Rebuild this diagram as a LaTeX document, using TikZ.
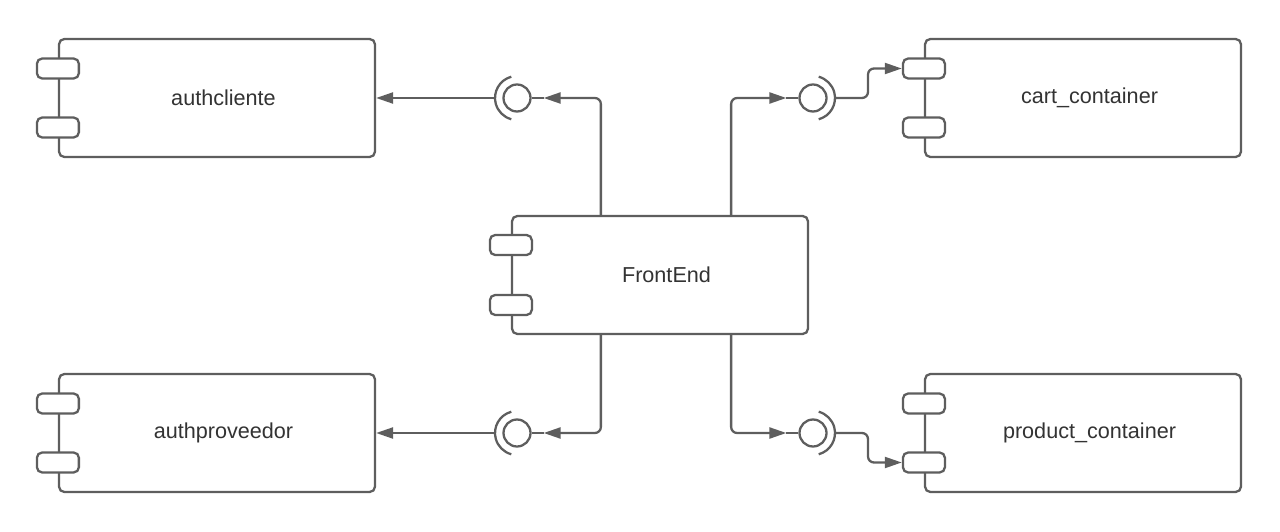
\documentclass[tikz,border=0pt]{standalone}
\usepackage{fontspec}
\setmainfont{Liberation Sans}
\usepackage{tikz}
\usetikzlibrary{arrows.meta}
\definecolor{lucidgray}{HTML}{5E5E5E}
\definecolor{lucidtext}{HTML}{333333}
\tikzset{
  wire/.style={
    draw = lucidgray,
    line width = 1.3pt
  },
  ->/.style={
    -{Triangle[length=0.34cm, width=0.22cm]}
  },
  comp/.style={
    wire,
    fill = white,
    rounded corners = 3pt,
    minimum width = 6.32cm,
    minimum height = 2.36cm
  },
  port/.style={
    wire,
    fill = white,
    rounded corners = 3pt,
    inner sep = 0pt,
    minimum width = 0.84cm,
    minimum height = 0.4cm
  },
  lolli/.style={
    wire,
    circle,
    fill = white,
    inner sep = 0pt,
    minimum size = 0.54cm
  }
}

\begin{document}
\begin{tikzpicture}[x=0.02cm, y=0.02cm, every node/.style={font=\fontsize{12.3}{14}\selectfont, text=lucidtext}]
\newcommand\XLeft{217}
\newcommand\XRight{1083}
\newcommand\YTop{433}
\newcommand\YBot{98}
\useasboundingbox (0,0) rectangle (1280,531);
\node[comp] (Acli)   at (\XLeft,\YTop)  {\hspace*{0.26cm}authcliente};
\node[comp] (Aprov)  at (\XLeft,\YBot)  {\hspace*{0.26cm}authproveedor};
\node[comp] (Acart)  at (\XRight,\YTop) {\hspace*{0.26cm}cart\_container};
\node[comp] (Aprod)  at (\XRight,\YBot) {\hspace*{0.26cm}product\_container};
\node[comp, minimum width=5.92cm] (Afront) at (660,256) {\hspace*{0.26cm}FrontEnd};
\node[port] (Acli1)   at ([yshift=0.59cm]Acli.west) {};
\node[port] (Acli2)   at ([yshift=-0.59cm]Acli.west) {};
\node[port] (Aprov1)  at ([yshift=0.59cm]Aprov.west) {};
\node[port] (Aprov2)  at ([yshift=-0.59cm]Aprov.west) {};
\node[port] (Acart1)  at ([yshift=0.59cm]Acart.west) {};
\node[port] (Acart2)  at ([yshift=-0.59cm]Acart.west) {};
\node[port] (Aprod1)  at ([yshift=0.59cm]Aprod.west) {};
\node[port] (Aprod2)  at ([yshift=-0.59cm]Aprod.west) {};
\node[port] (Afront1) at ([yshift=0.6cm]Afront.west) {};
\node[port] (Afront2) at ([yshift=-0.6cm]Afront.west) {};

% interfaces
\node[lolli] (I1) at (517,\YTop) {};
\node[lolli] (I2) at (813,\YTop) {};
\node[lolli] (I3) at (517,\YBot) {};
\node[lolli] (I4) at (813,\YBot) {};
\draw[wire] (I1.east) -- ++(12,0) coordinate (I1s);
\draw[wire] (I3.east) -- ++(12,0) coordinate (I3s);
\draw[wire] (I2.west) -- ++(-12,0) coordinate (I2s);
\draw[wire] (I4.west) -- ++(-12,0) coordinate (I4s);
\draw[wire] ([shift={(105:22)}]I1.center) arc[start angle=105, end angle=255, radius=0.44cm];
\draw[wire] ([shift={(105:22)}]I3.center) arc[start angle=105, end angle=255, radius=0.44cm];
\draw[wire] ([shift={(-75:22)}]I2.center) arc[start angle=-75, end angle=75, radius=0.44cm];
\draw[wire] ([shift={(-75:22)}]I4.center) arc[start angle=-75, end angle=75, radius=0.44cm];
\path (I1.center) ++(-22,0) coordinate (S1)
      (I3.center) ++(-22,0) coordinate (S3)
      (I2.center) ++(22,0)  coordinate (S2)
      (I4.center) ++(22,0)  coordinate (S4);

\draw[wire, ->, rounded corners=0.12cm] ([xshift=1.8cm]Afront.north west) |- (I1s);
\draw[wire, ->, rounded corners=0.12cm] ([xshift=-1.56cm]Afront.north east) |- (I2s);
\draw[wire, ->, rounded corners=0.12cm] ([xshift=1.8cm]Afront.south west) |- (I3s);
\draw[wire, ->, rounded corners=0.12cm] ([xshift=-1.56cm]Afront.south east) |- (I4s);
\draw[wire, ->] (S1) -- (Acli);
\draw[wire, ->] (S3) -- (Aprov);
\draw[wire, ->, rounded corners=0.12cm] (S2) -- ++(33,0) |- (Acart1);
\draw[wire, ->, rounded corners=0.12cm] (S4) -- ++(33,0) |- (Aprod2);
\end{tikzpicture}
\end{document}
